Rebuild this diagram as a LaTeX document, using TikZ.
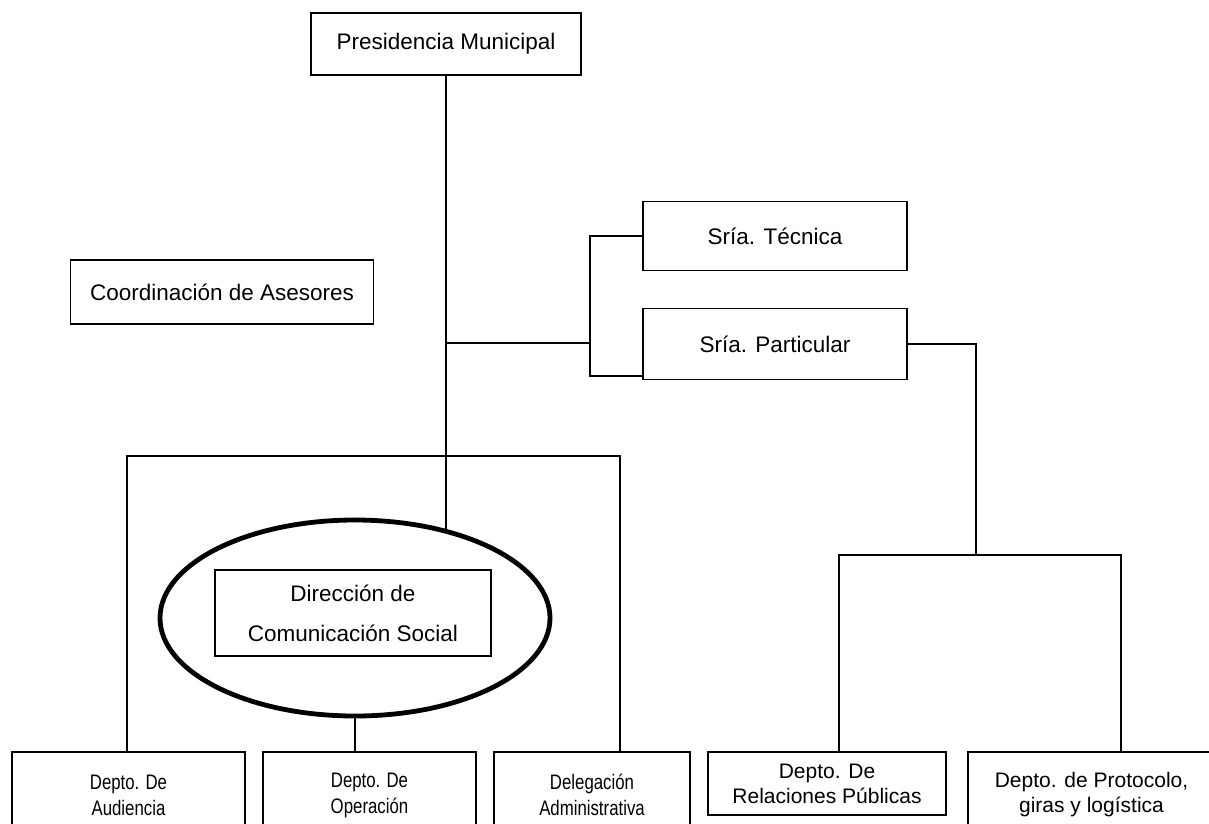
\documentclass[tikz,border=0pt]{standalone}
\usepackage{fontspec}
\setmainfont{Liberation Sans}
\newfontfamily\narrowsans{Liberation Sans}[FakeStretch=0.8]
\usetikzlibrary{shapes.geometric,calc}
\begin{document}
\begin{tikzpicture}[x=1pt,y=-1pt,
  box/.style={draw,line width=1.8pt,inner sep=0pt,align=center,
    font=\fontsize{22.5}{40}\selectfont},
  lowbox/.style={box,font=\narrowsans\fontsize{21}{26}\selectfont},
  rightbox/.style={box,font=\fontsize{21}{25}\selectfont},
  link/.style={line width=1.8pt},
  ring/.style={draw,ellipse,line width=4.8pt,inner sep=0pt}]
\clip (0,0) rectangle (1209,823);

% top level
\node[box,minimum width=270pt,minimum height=62pt] (pres) at (446,44) {Presidencia Municipal};
\node[box,minimum width=303pt,minimum height=64pt] (coord) at (222,292) {Coordinación de Asesores};
\node[box,minimum width=264pt,minimum height=69pt] (tec) at (775,236) {Sría. Técnica};
\node[box,minimum width=264pt,minimum height=71pt] (par) at (775,344) {Sría. Particular};

% highlighted direction
\node[ring,minimum width=390pt,minimum height=196pt] (ell) at (355,618) {};
\node[box,minimum width=276pt,minimum height=86pt] (dir) at (353,613) {Dirección de\\Comunicación Social};

% departments
\node[lowbox,minimum width=233pt,minimum height=86pt] (aud) at (128.5,795) {Depto. De\\Audiencia};
\node[lowbox,minimum width=213pt,minimum height=86pt] (ope) at (369.5,795) {Depto. De\\Operación};
\node[lowbox,minimum width=196pt,minimum height=86pt] (del) at (592,795) {Delegación\\Administrativa};
\node[rightbox,minimum width=238pt,minimum height=63pt] (rel) at (827,783.5) {Depto. De\\Relaciones Públicas};
\node[rightbox,minimum width=247pt,minimum height=86pt] (pro) at (1091.5,795) {Depto. de Protocolo,\\giras y logística};

% junction points
\coordinate (hub) at (pres.south |- 0,343);
\coordinate (fork) at (590,343);
\coordinate (pin) at (par.west |- 0,376);
\coordinate (lbl) at (127,456);
\coordinate (lbr) at (620,456);
\coordinate (rb) at (976,555);
\coordinate (rbl) at (839,555);
\coordinate (rbr) at (1121,555);

% connectors
\draw[link] (pres.south) -- (pres.south |- ell.44);
\draw[link] (hub) -- (fork);
\draw[link] (tec.west) -| (fork |- pin) -- (pin);
\draw[link] (lbl |- aud.north) -- (lbl) -- (lbr) -- (lbr |- del.north);
\draw[link] (ell.south) -- (ell.south |- ope.north);
\draw[link] (par.east) -| (rb);
\draw[link] (rbl |- rel.north) -- (rbl) -- (rbr) -- (rbr |- pro.north);
\end{tikzpicture}
\end{document}
